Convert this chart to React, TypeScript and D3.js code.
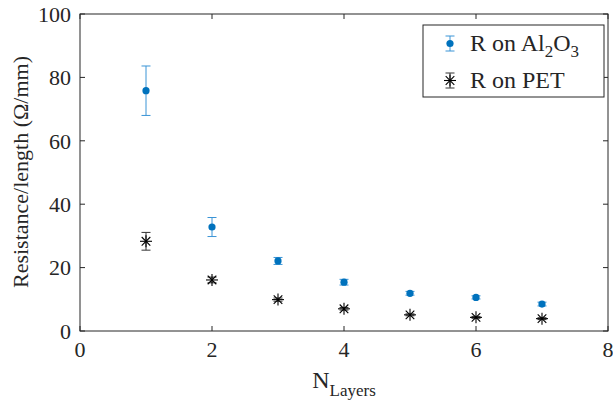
import React from 'react';
import * as d3 from 'd3';

// data
const layers = [1, 2, 3, 4, 5, 6, 7];
const al2o3Mean = [75.8, 32.8, 22.1, 15.4, 11.9, 10.6, 8.5];
const al2o3Err = [7.8, 3.0, 1.1, 0.9, 0.6, 0.5, 0.6];
const petMean = [28.3, 16.1, 9.9, 7.0, 5.1, 4.3, 3.9];
const petErr = [2.8, 0.9, 0.5, 0.4, 0.3, 0.3, 0.3];
const xTicks = [0, 2, 4, 6, 8];
const yTicks = [0, 20, 40, 60, 80, 100];

const W = 613;
const H = 408;
const box = { left: 80, right: 608, top: 14, bottom: 331 };
const axisColor = '#262626';
const blue = '#0072BD';
const blueBar = '#3a94d6';
const font = "'Liberation Serif', Tinos, 'Times New Roman', Times, serif";

function Star({ x, y }: { x: number; y: number }) {
  const r = 6;
  const d = 4.3;
  return (
    <g stroke="#000" strokeWidth={1.1}>
      <line x1={x - r} y1={y} x2={x + r} y2={y} />
      <line x1={x} y1={y - r} x2={x} y2={y + r} />
      <line x1={x - d} y1={y - d} x2={x + d} y2={y + d} />
      <line x1={x - d} y1={y + d} x2={x + d} y2={y - d} />
    </g>
  );
}

function ErrBar({ x, y0, y1, color }: { x: number; y0: number; y1: number; color: string }) {
  const c = 4.5;
  return (
    <g stroke={color} strokeWidth={1}>
      <line x1={x} y1={y0} x2={x} y2={y1} />
      <line x1={x - c} y1={y0} x2={x + c} y2={y0} />
      <line x1={x - c} y1={y1} x2={x + c} y2={y1} />
    </g>
  );
}

export default function App() {
  const x = d3.scaleLinear().domain([0, 8]).range([box.left, box.right]);
  const y = d3.scaleLinear().domain([0, 100]).range([box.bottom, box.top]);
  const tl = 5;

  return (
    <svg width={W} height={H} style={{ position: 'absolute', left: 0, top: 0, background: '#fff', fontFamily: font }}>
      <rect x={0} y={0} width={W} height={H} fill="#fff" />

      {/* error bars + markers */}
      {layers.map((l, i) => (
        <g key={'a' + l}>
          <ErrBar x={x(l)} y0={y(al2o3Mean[i] - al2o3Err[i])} y1={y(al2o3Mean[i] + al2o3Err[i])} color={blueBar} />
          <circle cx={x(l)} cy={y(al2o3Mean[i])} r={3.6} fill={blue} />
        </g>
      ))}
      {layers.map((l, i) => (
        <g key={'p' + l}>
          <ErrBar x={x(l)} y0={y(petMean[i] - petErr[i])} y1={y(petMean[i] + petErr[i])} color="#333" />
          <Star x={x(l)} y={y(petMean[i])} />
        </g>
      ))}

      {/* axes box */}
      <rect x={box.left} y={box.top} width={box.right - box.left} height={box.bottom - box.top}
        fill="none" stroke={axisColor} strokeWidth={1} />
      {xTicks.map(t => (
        <g key={'xt' + t}>
          <line x1={x(t)} x2={x(t)} y1={box.bottom} y2={box.bottom - tl} stroke={axisColor} />
          <line x1={x(t)} x2={x(t)} y1={box.top} y2={box.top + tl} stroke={axisColor} />
          <text x={x(t)} y={357} textAnchor="middle" fontSize={22} fill={axisColor}>{t}</text>
        </g>
      ))}
      {yTicks.map(t => (
        <g key={'yt' + t}>
          <line x1={box.left} x2={box.left + tl} y1={y(t)} y2={y(t)} stroke={axisColor} />
          <line x1={box.right} x2={box.right - tl} y1={y(t)} y2={y(t)} stroke={axisColor} />
          <text x={71} y={y(t)} dy="0.35em" textAnchor="end" fontSize={22} fill={axisColor}>{t}</text>
        </g>
      ))}

      {/* axis labels */}
      <text x={344} y={388} textAnchor="middle" fontSize={24} fill={axisColor}>
        N<tspan fontSize={17} dy={8}>Layers</tspan>
      </text>
      <text transform="translate(28,172) rotate(-90)" textAnchor="middle"
        fontSize={22} fill={axisColor}>
        Resistance/length (Ω/mm)
      </text>

      {/* legend */}
      <g>
        <rect x={423} y={25} width={181} height={72} fill="#fff" stroke={axisColor} strokeWidth={1} />
        <ErrBar x={450} y0={36} y1={51} color={blueBar} />
        <circle cx={450} cy={43.5} r={3.6} fill={blue} />
        <text x={470} y={51} fontSize={24} fill={axisColor}>
          R on Al<tspan fontSize={17} dy={6}>2</tspan><tspan dy={-6}>O</tspan><tspan fontSize={17} dy={6}>3</tspan>
        </text>
        <ErrBar x={450} y0={73} y1={88} color="#333" />
        <Star x={450} y={80.5} />
        <text x={470} y={88} fontSize={24} fill={axisColor}>R on PET</text>
      </g>
    </svg>
  );
}
